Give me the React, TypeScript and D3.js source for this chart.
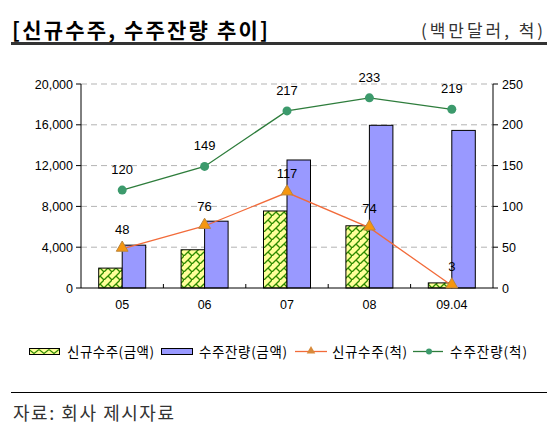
import React from "react";
import * as d3 from "d3";

const categories = ["05", "06", "07", "08", "09.04"];
const newOrderAmt = [1950, 3750, 7550, 6100, 500];
const backlogAmt = [4200, 6550, 12550, 15950, 15450];
const newOrderShips = [48, 76, 117, 74, 3];
const backlogShips = [120, 149, 217, 233, 219];
const leftTicks = [0, 4000, 8000, 12000, 16000, 20000];
const rightTicks = [0, 50, 100, 150, 200, 250];
const legendLabels = ["신규수주(금액)", "수주잔량(금액)", "신규수주(척)", "수주잔량(척)"];

const W = 560;
const H = 436;
const M = { left: 81, right: 493, top: 84, bottom: 288 };
const KR = "'Noto Sans CJK KR', sans-serif";
const LAT = "'Liberation Sans', Arial, sans-serif";

export default function App() {
  const x = d3.scaleBand<string>().domain(categories).range([M.left, M.right]).paddingInner(0).paddingOuter(0);
  const yL = d3.scaleLinear().domain([0, 20000]).range([M.bottom, M.top]);
  const yR = d3.scaleLinear().domain([0, 250]).range([M.bottom, M.top]);
  const bw = 23.5;
  const cx = (c: string) => (x(c) as number) + x.bandwidth() / 2;

  const lineNew = d3
    .line<number>()
    .x((_, i) => cx(categories[i]))
    .y((d) => yR(d));

  const tri = d3.symbol().type(d3.symbolTriangle).size(60)() as string;

  return (
    <div style={{ position: "absolute", left: 0, top: 0, background: "#fff" }}>
      <svg width={W} height={H} style={{ display: "block" }}>
        <defs>
          <pattern id="weave" width="8" height="8" patternUnits="userSpaceOnUse">
            <rect width="8" height="8" fill="#FFFF99" />
            <path d="M-1,9 L9,-1" stroke="#2e8b00" strokeWidth="1.3" />
            <path d="M4,4 L8,8" stroke="#2e8b00" strokeWidth="1.3" />
          </pattern>
          <pattern id="weaveL" width="10" height="7" patternUnits="userSpaceOnUse" x="29" y="348">
            <rect width="10" height="7" fill="#FFFF99" />
            <path d="M0,1.5 L5,5.5 L10,1.5" stroke="#2e8b00" strokeWidth="1.2" fill="none" />
          </pattern>
        </defs>
        <rect width={W} height={H} fill="#fff" />

        {/* Title */}
        <text x={12} y={38} fontFamily={KR} fontSize={21} fontWeight={700} fill="#000" textLength={256} lengthAdjust="spacing">
          [신규수주, 수주잔량 추이]
        </text>
        <text x={421} y={37} fontFamily={KR} fontSize={17} fill="#333" textLength={122} lengthAdjust="spacing">
          (백만달러, 척)
        </text>
        <rect x={11} y={42} width={536} height={3} fill="#333" />

        {/* Gridlines */}
        {leftTicks.slice(1).map((t) => (
          <line key={t} x1={M.left} x2={M.right} y1={yL(t)} y2={yL(t)} stroke="#b3b3b3" strokeDasharray="6,4" />
        ))}

        {/* Bars */}
        {categories.map((c, i) => (
          <g key={c}>
            <rect
              x={cx(c) - bw}
              y={yL(newOrderAmt[i])}
              width={bw}
              height={M.bottom - yL(newOrderAmt[i])}
              fill="url(#weave)"
              stroke="#000"
              strokeWidth={1}
            />
            <rect
              x={cx(c)}
              y={yL(backlogAmt[i])}
              width={bw}
              height={M.bottom - yL(backlogAmt[i])}
              fill="#9999FF"
              stroke="#000"
              strokeWidth={1}
            />
          </g>
        ))}

        {/* Axes */}
        <line x1={M.left} x2={M.left} y1={M.top} y2={M.bottom} stroke="#000" />
        <line x1={M.right} x2={M.right} y1={M.top} y2={M.bottom} stroke="#000" />
        <line x1={M.left} x2={M.right} y1={M.bottom} y2={M.bottom} stroke="#000" />
        {leftTicks.map((t) => (
          <g key={t}>
            <line x1={M.left - 5} x2={M.left} y1={yL(t)} y2={yL(t)} stroke="#000" />
            <text x={M.left - 8} y={yL(t) + 4.5} textAnchor="end" fontFamily={LAT} fontSize={12.5} fill="#000">
              {d3.format(",")(t)}
            </text>
          </g>
        ))}
        {rightTicks.map((t) => (
          <g key={t}>
            <line x1={M.right} x2={M.right + 5} y1={yR(t)} y2={yR(t)} stroke="#000" />
            <text x={M.right + 9} y={yR(t) + 4.5} textAnchor="start" fontFamily={LAT} fontSize={12.5} fill="#000">
              {t}
            </text>
          </g>
        ))}
        {categories.slice(1).map((c) => (
          <line key={c} x1={x(c) as number} x2={x(c) as number} y1={M.bottom} y2={M.bottom - 4} stroke="#000" />
        ))}
        {categories.map((c) => (
          <text key={c} x={cx(c)} y={309} textAnchor="middle" fontFamily={LAT} fontSize={12.5} fill="#000">
            {c}
          </text>
        ))}

        {/* Lines */}
        <path d={lineNew(newOrderShips) as string} fill="none" stroke="#F26B3A" strokeWidth={1.3} />
        <path d={lineNew(backlogShips) as string} fill="none" stroke="#2E7D3C" strokeWidth={1.3} />
        {newOrderShips.map((v, i) => (
          <g key={i}>
            <path
              d={tri}
              transform={`translate(${cx(categories[i])},${yR(v) - 1})`}
              fill="#F5960F"
              stroke="#B9853E"
              strokeWidth={1}
            />
            <text x={cx(categories[i])} y={yR(v) - 15} textAnchor="middle" fontFamily={LAT} fontSize={13} fill="#000">
              {v}
            </text>
          </g>
        ))}
        {backlogShips.map((v, i) => (
          <g key={i}>
            <circle cx={cx(categories[i])} cy={yR(v)} r={4.5} fill="#3C9A6C" />
            <text x={cx(categories[i])} y={yR(v) - 16} textAnchor="middle" fontFamily={LAT} fontSize={13} fill="#000">
              {v}
            </text>
          </g>
        ))}

        {/* Legend */}
        <g fontFamily={KR} fontSize={13.5} fill="#000">
          <rect x={29.5} y={348.5} width={30} height={6} fill="url(#weaveL)" stroke="#000" />
          <text x={67} y={357} textLength={87} lengthAdjust="spacing">{legendLabels[0]}</text>
          <rect x={161.5} y={348.5} width={31} height={6} fill="#9999FF" stroke="#000" />
          <text x={199} y={357} textLength={88} lengthAdjust="spacing">{legendLabels[1]}</text>
          <line x1={295} x2={327} y1={351.5} y2={351.5} stroke="#F26B3A" strokeWidth={1.3} />
          <path d={d3.symbol().type(d3.symbolTriangle).size(32)() as string} transform="translate(311,351)" fill="#D88A3A" />
          <text x={332} y={357} textLength={75} lengthAdjust="spacing">{legendLabels[2]}</text>
          <line x1={413} x2={443} y1={351.5} y2={351.5} stroke="#2E7D3C" strokeWidth={1.3} />
          <circle cx={429} cy={351.5} r={3} fill="#3C9A6C" />
          <text x={450} y={357} textLength={77} lengthAdjust="spacing">{legendLabels[3]}</text>
        </g>

        {/* Footer */}
        <line x1={11} x2={547} y1={392.5} y2={392.5} stroke="#000" strokeWidth={1} />
        <text x={13} y={420} fontFamily={KR} fontSize={18} fill="#333" textLength={161} lengthAdjust="spacing">
          자료: 회사 제시자료
        </text>
      </svg>
    </div>
  );
}
